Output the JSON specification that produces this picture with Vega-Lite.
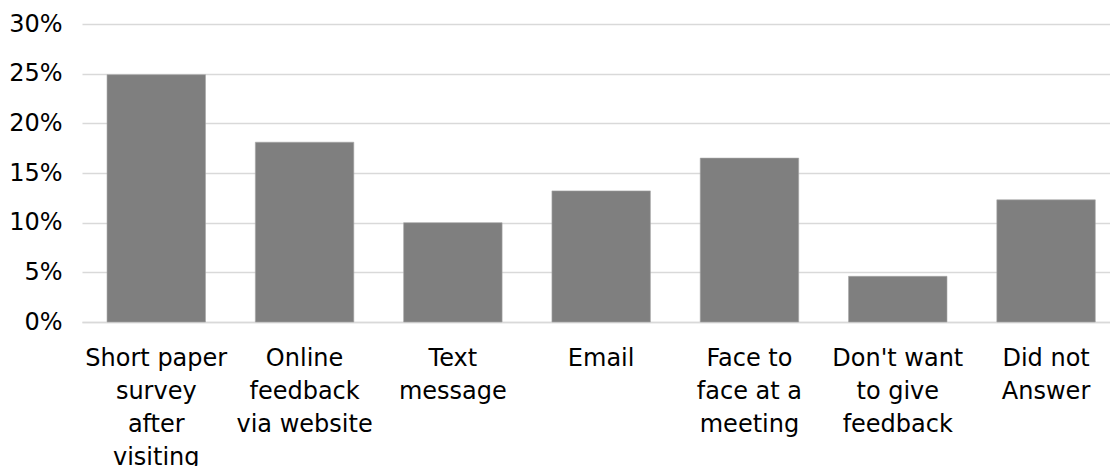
{
  "$schema": "https://vega.github.io/schema/vega-lite/v6.json",
  "autosize": {"type": "none"},
  "padding": {"left": 82, "top": 24, "right": 0, "bottom": 144},
  "width": 1028,
  "height": 298,
  "background": "white",
  "data": {
    "values": [
      {"method": "Short paper|survey|after|visiting", "share": 0.249},
      {"method": "Online|feedback|via website", "share": 0.181},
      {"method": "Text|message", "share": 0.100},
      {"method": "Email", "share": 0.132},
      {"method": "Face to|face at a|meeting", "share": 0.165},
      {"method": "Don't want|to give|feedback", "share": 0.046},
      {"method": "Did not|Answer", "share": 0.123}
    ]
  },
  "mark": {"type": "bar", "color": "#7f7f7f", "stroke": "#a6a6a6", "strokeWidth": 0.6},
  "encoding": {
    "x": {
      "field": "method",
      "type": "nominal",
      "sort": null,
      "title": null,
      "scale": {"paddingInner": 0.336, "paddingOuter": 0.134, "align": 0.63},
      "axis": {
        "labelExpr": "split(datum.label, '|')",
        "labelAngle": 0,
        "labelAlign": "center",
        "labelBaseline": "top",
        "labelPadding": 24,
        "labelLineHeight": 33,
        "labelFont": "DejaVu Sans",
        "labelFontSize": 24,
        "labelColor": "#000000",
        "labelLimit": 0,
        "ticks": false,
        "domain": true,
        "domainColor": "#d9d9d9",
        "domainWidth": 1.5,
        "grid": false
      }
    },
    "y": {
      "field": "share",
      "type": "quantitative",
      "title": null,
      "scale": {"domain": [0, 0.3], "nice": false},
      "axis": {
        "values": [0, 0.05, 0.1, 0.15, 0.2, 0.25, 0.3],
        "format": ".0%",
        "labelFont": "DejaVu Sans",
        "labelFontSize": 24,
        "labelColor": "#000000",
        "labelPadding": 20,
        "labelAlign": "right",
        "labelBaseline": "middle",
        "ticks": false,
        "domain": false,
        "grid": true,
        "gridColor": "#d9d9d9",
        "gridWidth": 1.5
      }
    }
  },
  "config": {"view": {"stroke": null}}
}
